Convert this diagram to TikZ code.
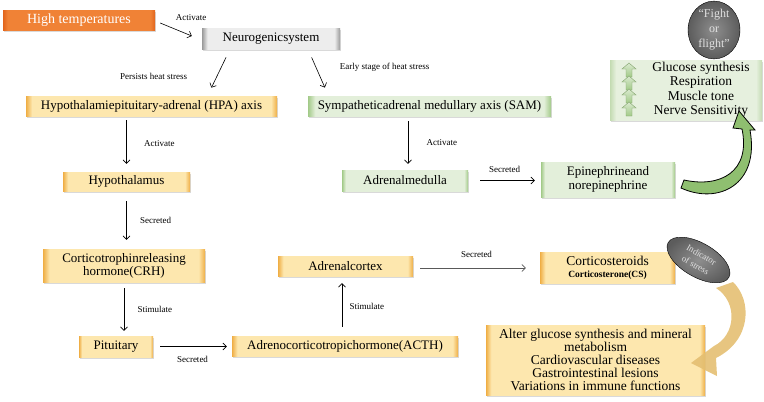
\documentclass[tikz,border=0pt]{standalone}
\usepackage{fontspec}
\setmainfont{Liberation Serif}
\usetikzlibrary{positioning,shadows,shapes.geometric,arrows.meta}
\definecolor{ylight}{HTML}{FDE7AE}
\definecolor{ydark}{HTML}{EFAE45}
\definecolor{glight}{HTML}{E3EFDA}
\definecolor{gdark}{HTML}{A2CA88}
\definecolor{klight}{HTML}{EDEDED}
\definecolor{kdark}{HTML}{9A9A9A}
\definecolor{hotlight}{HTML}{F08236}
\definecolor{hotdark}{HTML}{E2641C}
\definecolor{listlight}{HTML}{E6F0DE}
\definecolor{listdark}{HTML}{C3DBB2}
\definecolor{arrowgreen}{HTML}{8FBF70}
\definecolor{arrowgold}{HTML}{E4BF72}
\definecolor{ovallight}{HTML}{8E8E8E}
\definecolor{ovaldark}{HTML}{5C5C5C}
\pgfdeclarehorizontalshading{ybevel}{100bp}{color(0bp)=(ydark); color(25bp)=(ydark); color(27bp)=(ylight); color(73bp)=(ylight); color(75bp)=(ydark); color(100bp)=(ydark)}
\pgfdeclarehorizontalshading{ywide}{100bp}{color(0bp)=(ydark); color(25bp)=(ydark); color(26.2bp)=(ylight); color(73.8bp)=(ylight); color(75bp)=(ydark); color(100bp)=(ydark)}
\pgfdeclarehorizontalshading{gbevel}{100bp}{color(0bp)=(gdark); color(25bp)=(gdark); color(26.5bp)=(glight); color(73.5bp)=(glight); color(75bp)=(gdark); color(100bp)=(gdark)}
\pgfdeclarehorizontalshading{kbevel}{100bp}{color(0bp)=(kdark); color(25bp)=(kdark); color(27bp)=(klight); color(73bp)=(klight); color(75bp)=(kdark); color(100bp)=(kdark)}
\pgfdeclarehorizontalshading{hotbevel}{100bp}{color(0bp)=(hotdark); color(25bp)=(hotdark); color(26.5bp)=(hotlight); color(73.5bp)=(hotlight); color(75bp)=(hotdark); color(100bp)=(hotdark)}
\pgfdeclarehorizontalshading{listbevel}{100bp}{color(0bp)=(listdark); color(25bp)=(listdark); color(27bp)=(listlight); color(73bp)=(listlight); color(75bp)=(listdark); color(100bp)=(listdark)}
\tikzset{
  size/.style 2 args={minimum width=#1pt, minimum height=#2pt},
  box/.style={inner sep=0pt, align=center, font=\fontsize{13}{13}\selectfont,
    drop shadow={shadow xshift=1pt, shadow yshift=-1.5pt, opacity=0.3}},
  ybox/.style={box, shading=ybevel},
  gbox/.style={box, shading=gbevel},
  oval/.style={ellipse, draw=black, inner sep=0pt, align=center, text=black!12,
    inner color=ovallight, outer color=ovaldark},
  lbl/.style={font=\fontsize{9}{10}\selectfont},
  link/.style={-{Straight Barb[length=3.5pt,width=7pt]}, semithick},
}
\begin{document}
\begin{tikzpicture}[x=1pt, y=-1pt]
\useasboundingbox (0,0) rectangle (764,402);

\node[box, shading=hotbevel, size={152}{20}, text=white, font=\fontsize{14}{14}\selectfont, drop shadow={opacity=0}] (hot) at (79,20) {High temperatures};
\node[box, shading=kbevel, size={138}{21}] (neuro) at (271,38.5) {Neurogenicsystem};
\node[box, shading=ywide, size={251}{20}] (hpa) at (151.5,106) {Hypothalamiepituitary-adrenal (HPA) axis};
\node[gbox, size={243}{20}] (sam) at (429.5,106) {Sympatheticadrenal medullary axis (SAM)};
\node[ybox, size={127}{19}] (hypo) at (126.5,181.5) {Hypothalamus};
\node[gbox, size={126}{21}] (medulla) at (405,180.5) {Adrenalmedulla};
\node[gbox, size={134}{35}, font=\fontsize{13}{14}\selectfont] (epi) at (608,179.5) {Epinephrineand\\norepinephrine};
\node[ybox, size={162}{33}] (crh) at (124,265.5) {Corticotrophinreleasing\\hormone(CRH)};
\node[ybox, size={74}{21}] (pit) at (116,346.5) {Pituitary};
\node[box, shading=ywide, size={226}{20}] (acth) at (345,346) {Adrenocorticotropichormone(ACTH)};
\node[ybox, size={135}{20}] (cortex) at (345.5,266) {Adrenalcortex};
\node[ybox, size={135}{31}, font=\fontsize{13.5}{13}\selectfont] (cs) at (607.5,267.5) {Corticosteroids\\[-1pt]{\fontsize{9.5}{10}\selectfont\bfseries Corticosterone(CS)}};
\node[box, shading=ywide, size={219}{70}, font=\fontsize{13.5}{13}\selectfont] (effects) at (595.5,360)
  {Alter glucose synthesis and mineral\\metabolism\\Cardiovascular diseases\\Gastrointestinal lesions\\Variations in immune functions};

\node[box, shading=listbevel, size={152}{60}] (list) at (686,90) {};
\foreach \y in {63,76,89,102}
  \draw[draw=gdark!80!black, top color=gdark!40, bottom color=gdark]
    (629,\y) -- (636,\y+6) -- (632,\y+6) -- (632,\y+14) -- (626,\y+14) -- (626,\y+6) -- (622,\y+6) -- cycle;
\node[align=center, font=\fontsize{13.5}{14.5}\selectfont] (listtext) at (701,90)
  {Glucose synthesis\\Respiration\\Muscle tone\\Nerve Sensitivity};

\node[oval, size={52}{50}, font=\fontsize{12}{15}\selectfont] (fight) at (714,30) {``Fight\\or\\flight''};
\node[oval, size={70}{34}, rotate=-30, font=\fontsize{9}{12}\selectfont] (stress) at (698.5,260) {Indicator\\of stress};

\draw[link] ([xshift=5pt,yshift=-3pt]hot.east) -- ([xshift=-10pt,yshift=2.5pt]neuro.west)
  node[lbl, midway, xshift=15pt, yshift=12pt] {Activate};
\draw[link, shorten <=9pt, shorten >=9pt] ([xshift=-41pt]neuro.south) -- ([xshift=56pt]hpa.north)
  node[lbl, midway, left=28pt, yshift=-4pt] {Persists heat stress};
\draw[link, shorten <=9pt, shorten >=9pt] ([xshift=37pt]neuro.south) -- ([xshift=-101pt]sam.north)
  node[lbl, midway, right=18pt, yshift=5pt] {Early stage of heat stress};
\draw[link, shorten <=4pt, shorten >=8pt] (hpa.south -| hypo.north) -- (hypo.north)
  node[lbl, midway, right=14pt] {Activate};
\draw[link, shorten <=5pt, shorten >=6pt] ([xshift=3pt]sam.south -| medulla.north) -- ([xshift=3pt]medulla.north)
  node[lbl, midway, right=15pt] {Activate};
\draw[link, shorten <=12pt, shorten >=6pt] (medulla.east) -- (medulla.east -| epi.west)
  node[lbl, midway, above=4pt] {Secreted};
\draw[link, shorten <=10pt, shorten >=9pt] (hypo.south) -- (hypo.south |- crh.north)
  node[lbl, midway, right=10pt] {Secreted};
\draw[link, shorten <=6pt, shorten >=5pt] (crh.south) -- (crh.south |- pit.north)
  node[lbl, midway, right=10pt] {Stimulate};
\draw[link, shorten <=7pt, shorten >=5pt] (pit.east) -- (pit.east -| acth.west)
  node[lbl, midway, below=6pt] {Secreted};
\draw[link, shorten <=9pt, shorten >=7pt] ([xshift=-3pt]acth.north) -- ([xshift=-3pt]acth.north |- cortex.south)
  node[lbl, midway, right=4pt] {Stimulate};
\draw[link, draw=black!65, shorten <=7pt, shorten >=14pt] ([yshift=-2pt]cortex.east) -- ([yshift=-2pt]cortex.east -| cs.west)
  node[lbl, text=black, midway, above=7pt] {Secreted};

\fill[arrowgold, opacity=0.9] (733,282) .. controls (752,300) and (752,340) .. (716,358)
  -- (717,376) -- (691,363) -- (714,346)
  .. controls (736,335) and (738,302) .. (716,288) -- cycle;
\filldraw[fill=arrowgreen, draw=black, thick] (681,188) .. controls (718,205) and (760,185) .. (750,130)
  -- (755,130) -- (739,111) -- (733,128) -- (742,129)
  .. controls (751,172) and (720,188) .. (684,180) -- cycle;
\end{tikzpicture}
\end{document}
